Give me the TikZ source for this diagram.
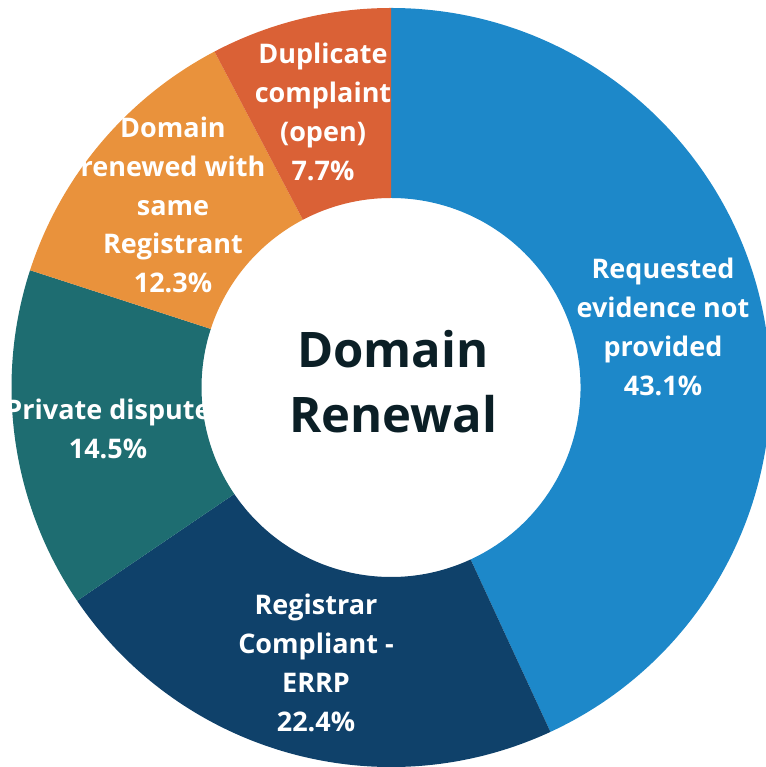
\documentclass[tikz,border=0pt]{standalone}
\usepackage{fontspec}
\setmainfont{Open Sans}
\usetikzlibrary{calc}
\definecolor{cblue}{HTML}{1D88C9}
\definecolor{cnavy}{HTML}{0F416A}
\definecolor{cteal}{HTML}{1E6D71}
\definecolor{corange}{HTML}{E9923C}
\definecolor{cred}{HTML}{DA6136}
\definecolor{cdark}{HTML}{0B1F26}
\begin{document}
\begin{tikzpicture}[x=1pt,y=1pt,
  lbl/.style={text=white,align=center,font=\bfseries\fontsize{27}{38.8}\selectfont,inner sep=0pt},
  ctr/.style={text=cdark,align=center,font=\bfseries\fontsize{49}{65}\selectfont,inner sep=0pt}]
\useasboundingbox (0,0) rectangle (765,767);
\coordinate (c) at (391,379.5);
\def\Ro{379.5}
\def\Ri{189.5}
% sectors: start angle, end angle (clockwise from top)
\foreach \a/\b/\col in {90/-65.16/cblue, -65.16/-145.8/cnavy, -145.8/-198/cteal, -198/-242.28/corange, -242.28/-270/cred}{
  \fill[\col] ($(c)+(\a:\Ro)$) arc[start angle=\a,end angle=\b,radius=\Ro]
     -- ($(c)+(\b:\Ri)$) arc[start angle=\b,end angle=\a,radius=\Ri] -- cycle;
}
\node[lbl] (req) at (663,440) {Requested\\evidence not\\provided\\43.1\%};
\node[lbl] (reg) at (316,104) {Registrar\\Compliant -\\ERRP\\22.4\%};
\node[lbl] (priv) at (108,338) {Private dispute\\14.5\%};
\node[lbl] (dom) at (173,562) {Domain\\renewed with\\same\\Registrant\\12.3\%};
\node[lbl] (dup) at (323,655) {Duplicate\\complaint\\(open)\\7.7\%};
\node[ctr] (title) at (393,385) {Domain\\Renewal};
\end{tikzpicture}
\end{document}
